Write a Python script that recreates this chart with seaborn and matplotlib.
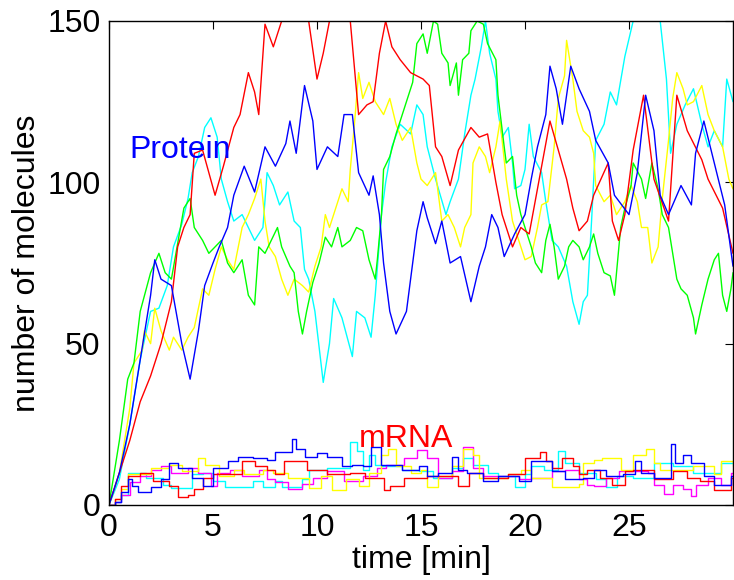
import numpy as np
import pandas as pd
import matplotlib
matplotlib.use("Agg")
import matplotlib.pyplot as plt
import seaborn as sns

# ---------------- data ----------------
red_p_t = [0,0.5,1,1.5,2,2.5,3,3.3,3.6,3.9,4.1,4.5,5.1,5.5,6.0,6.3,6.7,7.0,7.2,7.5,7.9,8.3,8.8,9.3,9.6,10.0,10.3,10.6,11.0,11.6,12.0,12.4,12.7,13.0,13.3,13.6,14.0,14.5,15.1,15.4,15.7,16.0,16.4,16.8,17.4,17.8,18.2,18.6,18.9,19.4,19.8,20.2,20.6,21.2,21.6,22.0,22.3,22.6,23.0,23.3,24.0,24.2,24.5,24.8,25.2,25.7,26.2,26.9,27.3,27.8,28.5,28.8,29.5,30.0]
red_p_v = [0,10,20,32,40,50,63,80,86,90,109,110,96,105,117,121,134,128,121,149,142,150,158,160,150,132,140,150,158,150,121,124,125,140,150,142,138,134,132,130,111,108,99,110,117,114,115,100,90,80,86,84,98,119,110,101,92,85,88,96,106,88,82,90,110,127,101,88,127,116,107,101,92,78]

blue_p_t = [0,0.5,1,1.5,2,2.2,2.5,3,3.5,3.9,4.3,4.6,5,5.3,5.7,6,6.5,7,7.5,8,8.5,8.7,9,9.4,9.8,10,10.5,11,11.3,11.7,12,12.5,12.7,13,13.2,13.5,13.8,14.3,14.5,14.8,15.1,15.3,15.7,16,16.4,16.9,17.4,17.8,18.1,18.4,18.7,19,19.5,20,20.3,20.6,21,21.2,21.5,21.8,22.2,22.6,23.1,23.4,24,24.3,25,25.4,25.8,26.2,26.5,26.9,27.5,28,28.2,28.6,29.1,29.6,30]
blue_p_v = [0,10,25,45,65,76,70,68,50,39,54,68,75,80,86,96,105,97,111,105,112,119,109,130,119,104,111,108,121,121,103,96,102,90,75,60,53,60,70,85,94,89,81,88,75,77,63,74,80,90,86,77,84,90,101,111,121,136,129,118,136,129,122,113,106,96,90,103,127,116,96,90,99,93,109,119,106,93,74]

cyan_p_t = [0,0.5,1,1.5,2,2.4,2.8,3.1,3.5,3.8,4.0,4.3,4.6,4.9,5.2,5.4,5.7,6.0,6.4,6.7,7.0,7.4,7.6,7.9,8.2,8.6,8.9,9.2,9.4,9.6,9.9,10.1,10.3,10.6,10.8,11.2,11.7,11.9,12.3,12.6,12.8,13.1,13.3,13.6,14.0,14.5,14.8,15.1,15.3,15.7,16.2,16.4,16.8,17.1,17.4,17.6,17.9,18.1,18.3,18.6,18.7,18.9,19.2,19.4,19.5,19.8,20.0,20.2,20.4,20.8,21.0,21.3,21.6,22.0,22.3,22.6,22.8,23.0,23.2,23.4,23.8,24.1,24.4,24.8,25.2,25.6,26.0,26.5,26.8,27.0,27.3,27.7,28.1,28.5,28.8,29.1,29.5,29.7,30.0]
cyan_p_v = [0,8,25,45,60,61,68,80,87,95,103,108,117,120,114,101,94,88,90,86,82,86,103,99,93,97,88,86,73,70,60,49,38,50,64,58,46,60,58,52,65,90,100,111,118,115,124,121,111,101,90,94,101,115,127,132,142,150,140,132,122,114,117,106,98,99,104,118,108,103,94,82,80,74,63,56,63,65,88,113,118,128,124,139,150,156,155,150,132,109,118,124,129,118,111,116,111,132,125]

green_p_t = [0,0.5,0.9,1.2,1.5,2.0,2.4,2.7,3.0,3.3,3.6,3.9,4.1,4.5,4.8,5.1,5.4,5.7,6.0,6.4,6.7,7.0,7.2,7.5,7.8,8.1,8.3,8.7,8.9,9.1,9.3,9.5,9.8,10.1,10.4,10.7,11.0,11.2,11.6,11.9,12.2,12.5,12.8,12.9,13.1,13.2,13.5,13.8,14.1,14.4,14.6,14.8,15.1,15.3,15.6,15.8,16.0,16.3,16.4,16.7,16.8,17.0,17.3,17.4,17.7,18.0,18.2,18.6,18.7,19.0,19.1,19.4,19.6,19.8,20.0,20.3,20.5,20.8,21.0,21.2,21.4,21.6,21.9,22.1,22.3,22.6,22.8,23.1,23.3,23.5,23.8,24.1,24.3,24.4,24.6,24.8,25.1,25.2,25.6,25.8,26.1,26.4,26.6,26.9,27.1,27.3,27.5,27.8,28.1,28.2,28.5,28.8,29.1,29.3,29.5,29.7,29.9,30.0]
green_p_v = [0,20,39,44,60,72,78,72,70,81,92,95,86,82,78,80,82,75,72,76,65,62,80,78,82,86,80,74,72,60,53,60,69,75,83,80,86,80,82,86,85,76,70,76,90,104,108,115,121,127,131,143,146,140,150,149,140,137,130,137,127,138,140,147,150,149,143,138,127,111,106,108,96,90,86,80,75,72,82,87,80,70,74,80,82,80,76,80,84,78,72,71,65,72,86,92,99,106,101,95,106,98,90,86,78,70,67,65,58,53,62,70,76,78,65,60,67,72]

yellow_p_t = [0,0.5,1.0,1.2,1.6,1.7,2.0,2.2,2.5,2.9,3.1,3.5,3.8,4.1,4.5,4.8,5.1,5.4,5.7,6.0,6.4,6.7,7.0,7.3,7.5,7.7,8.0,8.3,8.6,8.9,9.3,9.6,9.9,10.2,10.4,10.6,10.9,11.2,11.5,11.6,11.8,12.0,12.2,12.5,12.8,13.2,13.5,13.8,14.1,14.5,14.8,15.0,15.3,15.7,16.0,16.3,16.6,16.9,17.1,17.4,17.5,17.8,18.1,18.3,18.6,18.8,19.1,19.4,19.7,20.0,20.3,20.6,20.8,21.1,21.4,21.6,21.9,22.0,22.3,22.5,22.8,23.1,23.3,23.4,23.8,24.1,24.4,24.8,25.1,25.4,25.6,25.9,26.1,26.4,26.6,26.9,27.1,27.3,27.6,27.8,28.1,28.5,28.8,29.1,29.5,29.8,30.0]
yellow_p_v = [0,10,30,44,48,54,50,61,54,48,52,48,52,55,67,65,73,80,76,73,86,90,95,101,88,80,77,70,65,70,68,66,74,80,90,86,92,98,94,104,118,134,126,131,125,121,126,118,113,117,106,101,99,103,88,90,86,80,86,90,106,111,108,103,111,119,101,88,82,76,77,86,93,94,111,126,133,144,132,122,116,114,109,99,94,96,90,94,99,94,86,86,75,80,95,113,126,134,129,124,125,130,121,116,111,101,98]

red_m_t = [0,0.3,0.6,0.9,1.5,2.1,2.9,3.3,3.8,4.1,4.5,5.0,5.8,6.4,7.0,7.6,8.0,8.4,9.5,10.5,11.6,12.3,13.2,13.5,14.2,15.3,16.8,17.3,18.0,19.2,20.0,20.7,21.0,21.3,21.8,22.3,22.6,23.0,23.6,24.2,24.8,25.2,26.2,27.1,27.8,28.4,29.1,29.9,30]
red_m_v = [0,2,6,9,10,7.5,6,2.5,3,5,8.5,9.5,9.5,13.5,12,11,9.5,13.5,11,9.5,10,8.5,4.7,6,8.5,9,6,10,8.5,9.5,14.5,16.5,13.5,11.5,14.5,12,9.5,11,8.5,6.3,10.5,11,8,10.5,8.5,7.5,4.5,8.4,8.4]

blue_m_t = [0,0.3,0.6,0.9,1.1,1.4,2.0,2.5,2.9,3.3,4.0,4.5,5.0,5.7,6.2,6.9,7.6,8.0,8.8,9.0,9.4,10.0,10.5,11.2,11.7,12.2,12.6,13.1,14.1,14.9,15.3,15.8,16.5,16.8,17.2,18.0,18.7,19.7,20.3,21.3,21.9,22.8,23.3,23.9,24.7,25.3,25.6,26.2,27.0,27.2,27.6,28.0,28.6,29.1,29.9,30]
blue_m_v = [0,1,4,8,6,4,5.5,8,13,11.5,8.5,6,11.5,13.5,15,14.5,14,16.5,20.5,17.5,15,16,15,12,12.5,12,18,12.5,11,12,9,10,15,11,10,7.5,9,7.5,13.5,10.5,8,8.5,11,9,9.5,13.5,10,8.5,19,13,15.5,13,9,6.3,9,9]

yellow_m_t = [0,0.3,0.6,0.9,1.5,2.0,2.9,3.5,4.3,4.6,5.3,6.0,6.5,7.4,7.9,8.6,9.6,10.2,10.7,11.4,12.0,12.5,13.1,13.4,13.8,14.5,15.0,15.3,15.8,16.5,17.0,17.5,17.8,19.2,19.8,20.3,21.3,22.6,22.8,23.3,23.7,24.6,25.2,25.8,26.2,26.5,28.1,29.1,29.4,30]
yellow_m_v = [0,2,5,9.5,9.5,11.5,12.5,10.5,14.5,12.5,9,11,9.5,11,10,8.5,5.2,9,4.5,8,6,10,15.5,17.5,12,10,11,5.5,9,12,17.5,15.5,8.5,9.5,11,8.5,5.5,6.5,13,14,14.5,11,15.5,17.5,13,11,12,9.5,13.5,12]

cyan_m_t = [0,0.3,0.6,0.9,1.8,2.6,3.0,4.0,4.5,5.0,5.6,6.9,7.4,8.0,8.3,9.3,9.6,10.5,11.6,11.9,12.2,12.5,12.8,13.1,14.1,14.9,15.6,16.5,17.0,17.5,18.2,18.7,19.5,20.0,20.3,20.9,21.6,21.9,22.6,23.4,23.9,24.4,25.2,26.2,27.1,28.1,29.4,30]
cyan_m_v = [0,1,3,10,8.4,6.3,5.2,9.5,10,7.4,5.5,7.4,5.5,7.5,5.5,8,11,11.5,19.5,16.6,11,15.5,12.5,12,11,10.5,8.4,11.5,14.5,12.5,10,9,5.5,9.5,12,11,16.6,13,10,8,5.5,9,8.4,13,12,10,13,13]

magenta_m_t = [0,0.3,0.6,1.0,1.5,2.0,2.5,3.0,3.8,4.3,4.9,5.2,5.8,6.4,7.2,7.6,8.0,8.6,9.3,9.8,10.5,11.3,12.2,12.9,13.3,14.2,14.8,15.3,15.8,16.5,17.0,17.5,18.0,19.7,20.3,21.3,21.9,22.6,23.0,23.3,23.9,24.5,25.9,26.2,26.7,27.1,27.6,28.0,28.2,28.8,29.4,29.9,30]
magenta_m_v = [0,1,3,7,9,11,12,10,11.5,10,6,10,11,9,11,8,7,5,6.5,8.5,10.5,7.4,9,11.5,12.5,14.5,17,14.5,8.4,10.5,18,11.5,9,8,8.4,10.5,11,8,6.3,5.8,8.4,10.5,10,6.3,3.3,6.3,5,2.7,6.3,8.4,6.3,10,10]

x_ticks = [0, 5, 10, 15, 20, 25]
y_ticks = [0, 50, 100, 150]
x_label = "time [min]"
y_label = "number of molecules"

# ---------------- build tables ----------------
protein = [("cyan", cyan_p_t, cyan_p_v), ("yellow", yellow_p_t, yellow_p_v),
           ("green", green_p_t, green_p_v), ("red", red_p_t, red_p_v),
           ("blue", blue_p_t, blue_p_v)]
mrna = [("cyan", cyan_m_t, cyan_m_v), ("magenta", magenta_m_t, magenta_m_v),
        ("yellow", yellow_m_t, yellow_m_v), ("red", red_m_t, red_m_v),
        ("blue", blue_m_t, blue_m_v)]

def to_df(items, kind):
    frames = []
    for name, t, v in items:
        frames.append(pd.DataFrame({"time": t, "value": v,
                                    "series": f"{kind}-{name}"}))
    return pd.concat(frames, ignore_index=True)

df_p = to_df(protein, "P")
df_m = to_df(mrna, "M")

colors = {"red": "#ff0000", "blue": "#0000ff", "green": "#00ff00",
          "yellow": "#ffff00", "cyan": "#00ffff", "magenta": "#ff00ff"}
pal_p = {f"P-{n}": colors[n] for n, _, _ in protein}
pal_m = {f"M-{n}": colors[n] for n, _, _ in mrna}

# ---------------- plot ----------------
sns.set_theme(style="white")
plt.rcParams["font.family"] = ["Liberation Sans", "DejaVu Sans"]
plt.rcParams["text.color"] = "black"
plt.rcParams["axes.labelcolor"] = "black"
plt.rcParams["xtick.color"] = "black"
plt.rcParams["ytick.color"] = "black"

fig = plt.figure(figsize=(7.34, 5.80), dpi=100)
ax = fig.add_axes([109/734, 1 - 505/580, (733 - 109)/734, (505 - 21)/580])

sns.lineplot(data=df_p, x="time", y="value", hue="series", palette=pal_p,
             hue_order=list(pal_p.keys()), estimator=None, sort=False,
             linewidth=1.0, legend=False, ax=ax)
sns.lineplot(data=df_m, x="time", y="value", hue="series", palette=pal_m,
             hue_order=list(pal_m.keys()), estimator=None, sort=False,
             linewidth=1.0, drawstyle="steps-post", legend=False, ax=ax)

ax.set_xlim(0, 30)
ax.set_ylim(0, 150)
ax.set_xticks(x_ticks)
ax.set_yticks(y_ticks)
ax.tick_params(direction="in", length=6, width=0.8, top=True, right=True,
               labelsize=23, colors="black", pad=6)
for s in ax.spines.values():
    s.set_color("black")
    s.set_linewidth(1.0)
    s.set_visible(True)

ax.set_xlabel(x_label, fontsize=23, labelpad=1, color="black")
ax.set_ylabel(y_label, fontsize=23, labelpad=4, color="black")

ax.text(1.0, 110, "Protein", color="#0000ff", fontsize=23, va="center", ha="left")
ax.text(12.0, 20.5, "mRNA", color="#ff0000", fontsize=23, va="center", ha="left")

fig.savefig("out.png", dpi=100)
